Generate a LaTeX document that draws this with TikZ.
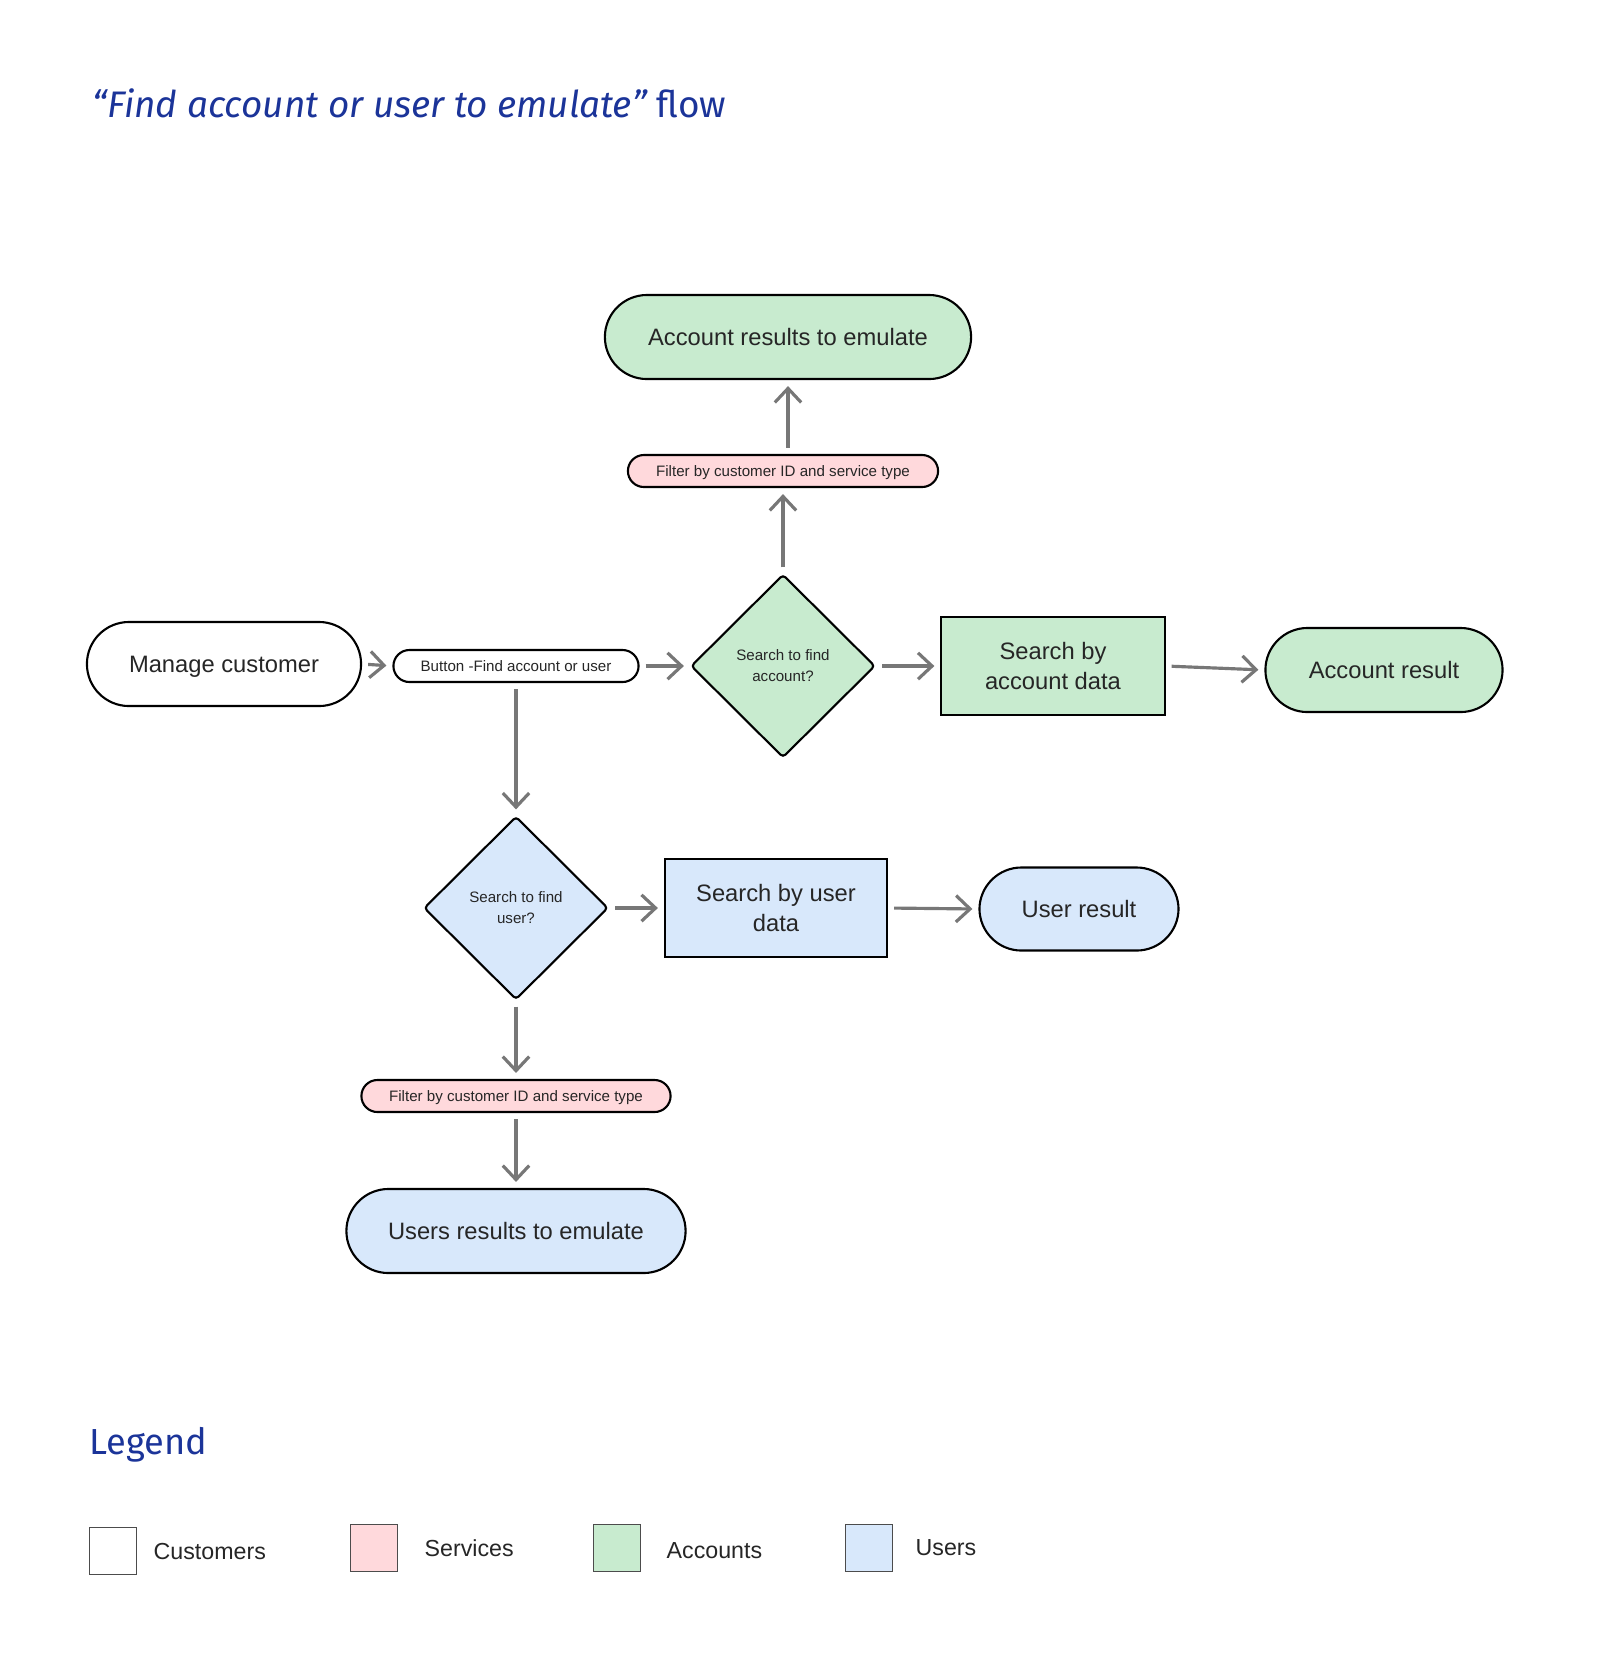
\documentclass[tikz,border=0pt]{standalone}
\usepackage{fontspec}
\setmainfont{Liberation Sans}
\newfontfamily\titlefont{Fira Sans}
\usetikzlibrary{shapes.geometric,arrows.meta}
\definecolor{ttl}{HTML}{1B3499}
\definecolor{gfill}{HTML}{C8EBCF}
\definecolor{pfill}{HTML}{FFD9DC}
\definecolor{bfill}{HTML}{D8E8FB}
\definecolor{arrgray}{HTML}{777777}
\definecolor{txt}{HTML}{262626}
\tikzset{
  pill/.style={draw=black, line width=0.6pt, rounded corners=0.42cm, inner sep=0pt, text=txt,
     font=\fontsize{6.75}{8.4}\selectfont, align=center, text height=4.85pt, text depth=0pt},
  smallpill/.style={draw=black, line width=0.6pt, rounded corners=0.16cm, inner sep=0pt, text=txt,
     font=\fontsize{4.3}{5.3}\selectfont, align=center, text height=3.1pt, text depth=0pt},
  boxnode/.style={draw=black, line width=0.6pt, inner sep=0pt, text=txt,
     font=\fontsize{6.75}{8.6}\selectfont, align=center},
  decide/.style={draw=black, line width=0.6pt, diamond, aspect=1, inner sep=0pt, rounded corners=1pt,
     minimum width=1.84cm, minimum height=1.83cm, text=txt,
     font=\fontsize{4.3}{6}\selectfont, align=center},
  arr/.style={draw=arrgray, line width=0.9pt, -{Straight Barb[length=4pt,width=7.5pt,line width=0.9pt]},
     shorten <=0.06cm, shorten >=0.06cm},
  legbox/.style={draw=black!70, line width=0.4pt, minimum width=0.47cm, minimum height=0.47cm, inner sep=0pt},
  leglabel/.style={anchor=west, inner sep=0pt, text=txt, font=\fontsize{6.6}{8}\selectfont}
}
\begin{document}
\begin{tikzpicture}[x=0.01cm, y=-0.01cm]
\useasboundingbox[fill=white] (0,0) rectangle (1600,1668);

% title
\node[anchor=west, text=ttl, font=\titlefont\fontsize{10.5}{12}\selectfont, inner sep=0pt] (title) at (92,103)
  {\itshape “Find account or user to emulate”\upshape{} flow};

% nodes
\node[pill, fill=gfill, minimum width=3.66cm, minimum height=0.84cm] (accres) at (788,337) {Account results to emulate};
\node[smallpill, fill=pfill, minimum width=3.10cm, minimum height=0.32cm] (filtop) at (783,471) {Filter by customer ID and service type};
\node[decide, fill=gfill] (dacc) at (783,666) {Search to find\\account?};
\node[pill, fill=white, minimum width=2.74cm, minimum height=0.84cm] (manage) at (224,664) {Manage customer};
\node[smallpill, fill=white, minimum width=2.45cm, minimum height=0.32cm] (button) at (516,666) {Button -Find account or user};
\node[boxnode, fill=gfill, minimum width=2.23cm, minimum height=0.98cm] (sacc) at (1053,666) {Search by\\account data};
\node[pill, fill=gfill, minimum width=2.37cm, minimum height=0.84cm] (ares) at (1384,670) {Account result};
\node[decide, fill=bfill] (duser) at (516,908) {Search to find\\user?};
\node[boxnode, fill=bfill, minimum width=2.22cm, minimum height=0.98cm] (suser) at (776,908) {Search by user\\data};
\node[pill, fill=bfill, minimum width=1.99cm, minimum height=0.83cm] (ures) at (1079,909) {User result};
\node[smallpill, fill=pfill, minimum width=3.09cm, minimum height=0.32cm] (filbot) at (516,1096) {Filter by customer ID and service type};
\node[pill, fill=bfill, minimum width=3.39cm, minimum height=0.84cm] (usersres) at (516,1231) {Users results to emulate};

% connectors
\draw[arr] (manage.east) -- (button.west);
\draw[arr] (button.east) -- (dacc.west);
\draw[arr] (dacc.north) -- (filtop.south);
\draw[arr] (filtop.north -| accres.south) -- (accres.south);
\draw[arr] (dacc.east) -- (sacc.west);
\draw[arr] (sacc.east) -- (ares.west);
\draw[arr] (button.south) -- (duser.north);
\draw[arr] (duser.east) -- (suser.west);
\draw[arr] (suser.east) -- (ures.west);
\draw[arr] (duser.south) -- (filbot.north);
\draw[arr] (filbot.south) -- (usersres.north);

% legend
\node[anchor=west, text=ttl, font=\titlefont\fontsize{10.3}{12}\selectfont, inner sep=0pt] (legend) at (89,1445) {Legend};
\node[legbox, fill=white] (lcust) at (113,1551) {};
\node[leglabel] (lcustt) at (153,1551) {Customers};
\node[legbox, fill=pfill] (lserv) at (374,1548) {};
\node[leglabel] (lservt) at (424,1548) {Services};
\node[legbox, fill=gfill] (lacc) at (617,1548) {};
\node[leglabel] (lacct) at (666,1551) {Accounts};
\node[legbox, fill=bfill] (luser) at (869,1548) {};
\node[leglabel] (lusert) at (915,1548) {Users};
\end{tikzpicture}
\end{document}
